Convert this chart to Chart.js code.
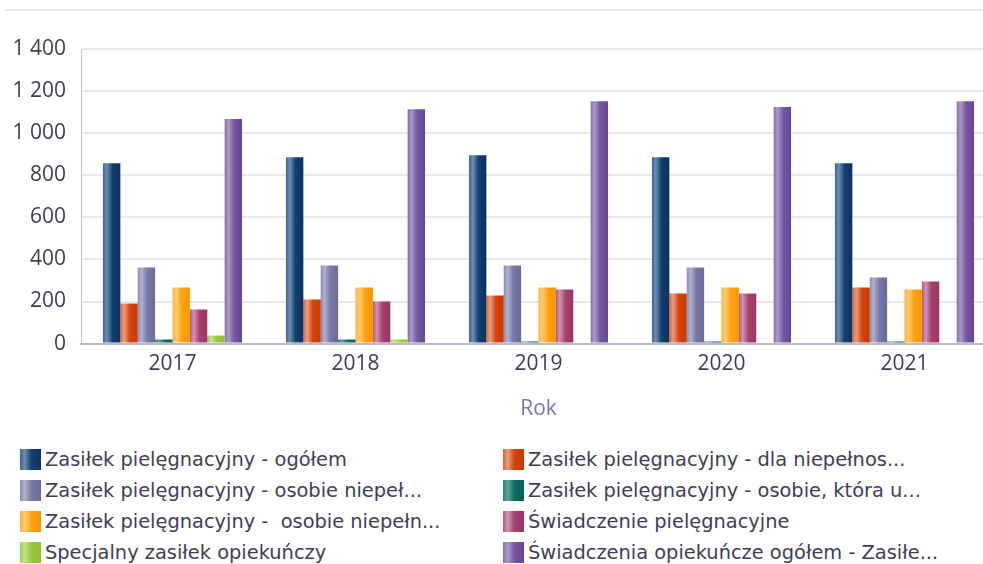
<!DOCTYPE html>
<html>
<head>
<meta charset="utf-8">
<script src="https://cdn.jsdelivr.net/npm/chart.js@4/dist/chart.umd.min.js"></script>
<style>
  html, body { margin: 0; padding: 0; background: #fff; overflow: hidden; }
  body { width: 983px; height: 564px; position: relative; }
  .top-rule { position: absolute; left: 5px; top: 9px; width: 978px; height: 2px; background: #e6e6ee; }
  .chart-box { position: absolute; left: 0; top: 0; width: 997px; height: 422px; }
  #legend {
    position: absolute; left: 20px; top: 449px;
    display: grid; grid-template-columns: 483px 470px; grid-auto-rows: 31px;
    font-family: "DejaVu Sans", sans-serif; font-size: 19.4px; color: #3e3e55;
  }
  .legend-item { display: flex; align-items: flex-start; height: 31px; white-space: pre; }
  .legend-box { width: 21px; height: 21px; margin-right: 4px; flex: none; }
  .legend-label { line-height: 22px; }
</style>
</head>
<body>
<div class="top-rule"></div>
<div class="chart-box"><canvas id="chart" width="997" height="422"></canvas></div>
<div id="legend"></div>
<script>
// Categories and tick labels
const years = ["2017", "2018", "2019", "2020", "2021"];
const yTicks = [0, 200, 400, 600, 800, 1000, 1200, 1400];

// Series names (as shown, truncated in the legend)
const seriesNames = [
  "Zasiłek pielęgnacyjny - ogółem",
  "Zasiłek pielęgnacyjny - dla niepełnos...",
  "Zasiłek pielęgnacyjny - osobie niepeł...",
  "Zasiłek pielęgnacyjny - osobie, która u...",
  "Zasiłek pielęgnacyjny -  osobie niepełn...",
  "Świadczenie pielęgnacyjne",
  "Specjalny zasiłek opiekuńczy",
  "Świadczenia opiekuńcze ogółem - Zasiłe..."
];

// Series values
const zpOgolem      = [857, 886, 895, 886, 857];
const zpDlaNiepel   = [190, 210, 229, 238, 267];
const zpOsobieNiep  = [362, 371, 371, 362, 314];
const zpOsobieKtora = [19, 19, 10, 10, 10];
const zpOsobieNiep2 = [267, 267, 267, 267, 257];
const swPielegn     = [162, 200, 257, 238, 295];
const specjalny     = [38, 19, null, null, null];
const swOpiekOgolem = [1067, 1114, 1152, 1124, 1152];

const seriesValues = [zpOgolem, zpDlaNiepel, zpOsobieNiep, zpOsobieKtora,
  zpOsobieNiep2, swPielegn, specjalny, swOpiekOgolem];

// Shading per series: edge, highlight, base, dark (left to right)
const shadeStops = [0, 0.22, 0.55, 1];
const shades = [
  ["#3d6590", "#6b8fb4", "#143f6e", "#0a3161"],
  ["#d9643a", "#ee9c7c", "#d4440c", "#c63a02"],
  ["#8b8cb3", "#b0b1d0", "#7879a5", "#6a6b99"],
  ["#2a7d73", "#5aa39a", "#0d6b60", "#07605a"],
  ["#ffb13c", "#ffcd70", "#ffa112", "#f89500"],
  ["#b0567e", "#d095b2", "#a6416f", "#993465"],
  ["#a4cf55", "#c3e386", "#97c83a", "#8dbf2e"],
  ["#8670ad", "#ab98cc", "#74579f", "#654696"]
];

function spaced(v) {
  return String(v).replace(/\B(?=(\d{3})+(?!\d))/g, " ");
}

// paint each bar with a horizontal gradient once its geometry is known
const barShade = {
  id: "barShade",
  beforeDatasetsDraw(chart) {
    const ctx = chart.ctx;
    chart.data.datasets.forEach((ds, i) => {
      chart.getDatasetMeta(i).data.forEach(bar => {
        const left = bar.x - bar.width / 2;
        const g = ctx.createLinearGradient(left, 0, left + bar.width, 0);
        shades[i].forEach((c, k) => g.addColorStop(shadeStops[k], c));
        bar.options.backgroundColor = g;
      });
    });
  }
};

const axisFont = { family: "'Open Sans', sans-serif", size: 21 };

const chart = new Chart(document.getElementById("chart"), {
  type: "bar",
  data: {
    labels: years,
    datasets: seriesNames.map((name, i) => ({
      label: name,
      data: seriesValues[i],
      backgroundColor: () => shades[i][2],
      borderWidth: 0,
      categoryPercentage: 0.76,
      barPercentage: 1.0
    }))
  },
  options: {
    responsive: false,
    animation: false,
    layout: { padding: { top: 49, right: 1, bottom: 0, left: 0 } },
    plugins: {
      legend: { display: false },
      tooltip: { enabled: false }
    },
    scales: {
      x: {
        grid: { display: false },
        border: { display: true, color: "#b8b8cc", width: 2 },
        ticks: { color: "#3e3e52", font: axisFont, padding: 0 },
        title: {
          display: true,
          text: "Rok",
          color: "#7a77a8",
          font: axisFont,
          padding: { top: 20, bottom: 0 }
        }
      },
      y: {
        min: yTicks[0],
        max: yTicks[yTicks.length - 1],
        afterBuildTicks: scale => { scale.ticks = yTicks.map(v => ({ value: v })); },
        afterFit: scale => { scale.width = 81; },
        grid: { color: "#e8e8ef", lineWidth: 2, drawTicks: false },
        border: { display: true, color: "#c4c4d6", width: 1 },
        ticks: {
          color: "#3e3e52",
          font: axisFont,
          padding: 15,
          callback: v => spaced(v)
        }
      }
    }
  },
  plugins: [barShade]
});

// custom two-column legend
function renderLegend() {
  const container = document.getElementById("legend");
  seriesNames.forEach((name, i) => {
    const s = shades[i];
    const item = document.createElement("div");
    item.className = "legend-item";
    item.innerHTML = `
      <span class="legend-box" style="background: linear-gradient(to right, ${s[0]} 0%, ${s[1]} 22%, ${s[2]} 55%, ${s[3]} 100%);"></span><span class="legend-label">${name}</span>`;
    container.appendChild(item);
  });
}
renderLegend();
</script>
</body>
</html>
